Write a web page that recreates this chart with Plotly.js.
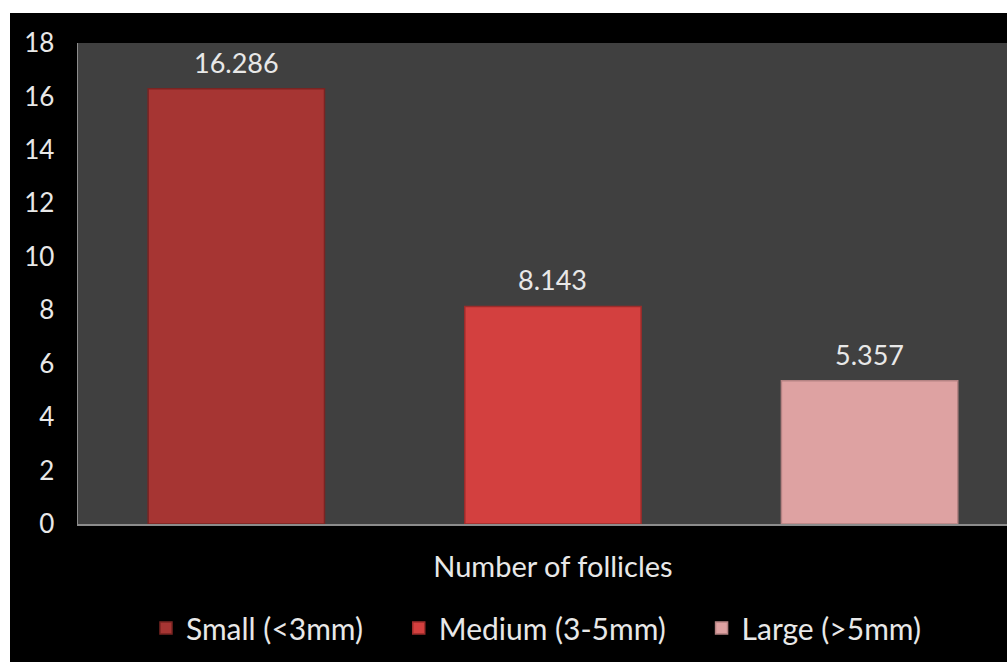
<!DOCTYPE html>
<html>
<head>
<meta charset="utf-8">
<script src="https://cdn.plot.ly/plotly-3.0.1.min.js"></script>
<style>
  html, body { margin: 0; padding: 0; background: #ffffff; width: 1007px; height: 662px; overflow: hidden; }
  #chart { position: absolute; left: 10px; top: 13px; width: 997px; height: 649px; }
</style>
</head>
<body>
<div id="chart"></div>
<script>
const category = ["Number of follicles"];
const seriesNames = ["Small (<3mm)", "Medium (3-5mm)", "Large (>5mm)"];
const seriesValues = [[16.286], [8.143], [5.357]];
const seriesColors = ["#a63533", "#d3403f", "#dea2a2"];
const lineColors = ["#7a2422", "#9c2c2b", "#b58383"];
const yTicks = [0, 2, 4, 6, 8, 10, 12, 14, 16, 18];

const FONT = "Lato, 'Open Sans', sans-serif";
const TXT = "#e8e8e8";
const BARGAP = 0;
const nSeries = seriesNames.length;
const LEGEND_PAD = "\u00a0\u00a0\u00a0\u00a0";

const traces = seriesNames.map((name, i) => ({
  type: "bar",
  name: i < nSeries - 1 ? name + LEGEND_PAD : name,
  x: category,
  y: seriesValues[i],
  marker: { color: seriesColors[i], line: { color: lineColors[i], width: 1.5 } },
  hoverinfo: "skip"
}));

// data labels placed at each bar's value through the axes
const slot = (1 - BARGAP) / nSeries;
const annotations = [];
seriesNames.forEach((name, i) => {
  seriesValues[i].forEach((v, j) => {
    annotations.push({
      xref: "x", yref: "y",
      x: j + (i - (nSeries - 1) / 2) * slot,
      y: v,
      text: v.toFixed(3),
      showarrow: false,
      yanchor: "bottom",
      yshift: 8,
      font: { family: FONT, size: 27, color: TXT }
    });
  });
});

const layout = {
  width: 997,
  height: 649,
  paper_bgcolor: "#000000",
  plot_bgcolor: "#404040",
  margin: { l: 68, r: 0, t: 30, b: 138 },
  barmode: "group",
  bargap: BARGAP,
  bargroupgap: 0.443,
  showlegend: true,
  font: { family: FONT, color: TXT },
  annotations: annotations,
  xaxis: {
    type: "category",
    range: [-0.5, 0.478],
    showline: true,
    linecolor: "#8c8c8c",
    linewidth: 1.5,
    showgrid: false,
    zeroline: false,
    ticks: "",
    ticklabelstandoff: 17,
    tickfont: { family: FONT, size: 29, color: TXT }
  },
  yaxis: {
    range: [0, 18],
    tickvals: yTicks,
    ticktext: yTicks.map(String),
    showline: true,
    linecolor: "#8c8c8c",
    linewidth: 1.5,
    showgrid: false,
    zeroline: false,
    ticks: "",
    ticklabelstandoff: 17,
    tickfont: { family: FONT, size: 26, color: TXT }
  },
  legend: {
    orientation: "h",
    x: 0.493,
    xanchor: "center",
    y: -0.216,
    yanchor: "middle",
    font: { family: FONT, size: 30, color: TXT },
    itemwidth: 30,
    traceorder: "normal"
  }
};

Plotly.newPlot("chart", traces, layout, { displayModeBar: false, staticPlot: true });
</script>
</body>
</html>
